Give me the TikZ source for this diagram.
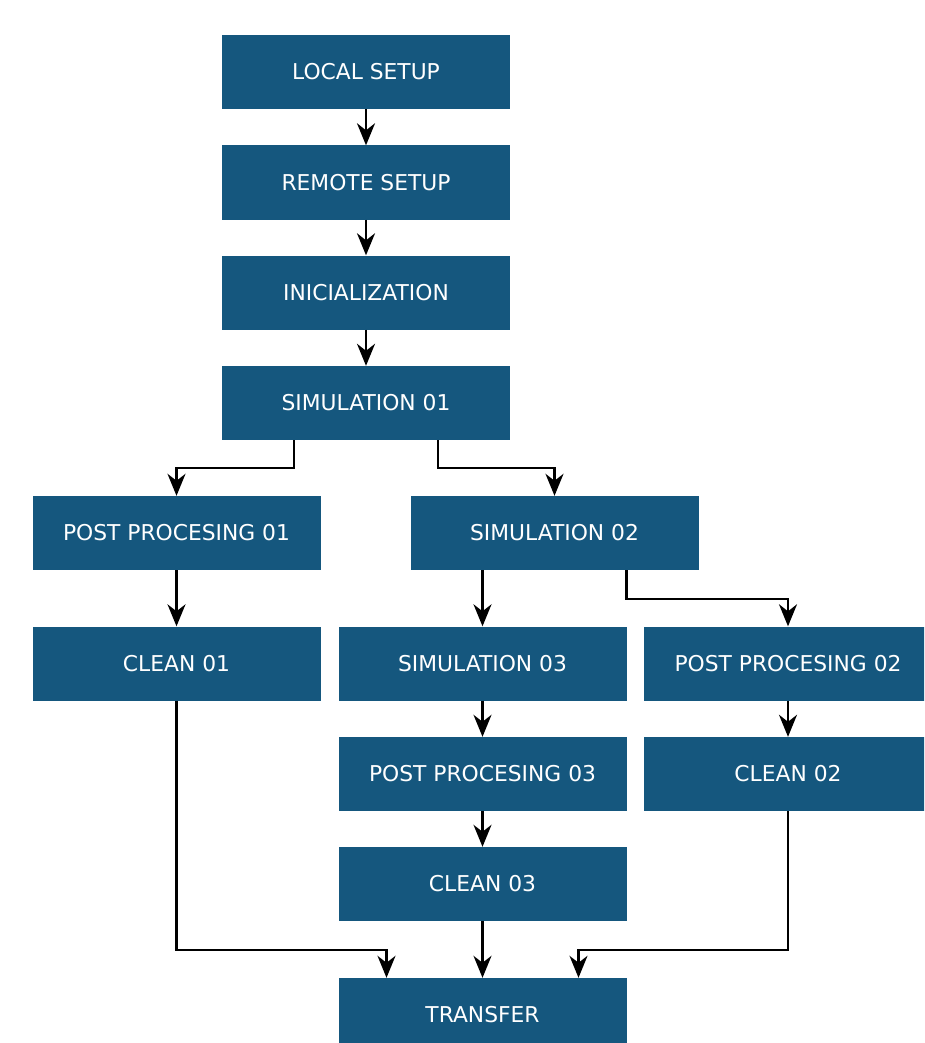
\documentclass[tikz,border=0pt]{standalone}
\usepackage{fontspec}
\setmainfont{DejaVu Sans}
\usetikzlibrary{arrows.meta,positioning}
\definecolor{chathams}{RGB}{21, 87, 126}
\tikzset{stagebox/.style={fill=chathams,text=white,minimum width=288,minimum height=74,inner sep=0pt,font=\fontsize{21.8}{26}\selectfont}}
\tikzset{flow/.style={-{Stealth[length=22pt,width=18pt,inset=7pt]},line width=2.2pt,black}}

\begin{document}
\begin{tikzpicture}[x=1pt,y=-1pt]
	\useasboundingbox (0,0) rectangle (924,1043);
	\clip (0,0) rectangle (924,1043);
	% stages
	\node[stagebox] (localsetup) at (366,72) {LOCAL SETUP};
	\node[stagebox] (remotesetup) at (366,182.5) {REMOTE SETUP};
	\node[stagebox] (init) at (366,292.5) {INICIALIZATION};
	\node[stagebox] (sim01) at (366,403) {SIMULATION 01};
	\node[stagebox] (post01) at (176.5,533) {POST PROCESING 01};
	\node[stagebox] (sim02) at (554.5,533) {SIMULATION 02};
	\node[stagebox] (clean01) at (176.5,663.5) {CLEAN 01};
	\node[stagebox] (sim03) at (482.5,663.5) {SIMULATION 03};
	\node[stagebox] (post02) at (788,663.5) {POST PROCESING 02};
	\node[stagebox] (post03) at (482.5,774) {POST PROCESING 03};
	\node[stagebox] (clean02) at (788,774) {CLEAN 02};
	\node[stagebox] (clean03) at (482.5,884) {CLEAN 03};
	\node[stagebox] (transfer) at (482.5,1015) {TRANSFER};
	\coordinate (merge) at (0,950);
	% connectors
	\draw[flow] (localsetup) -- (remotesetup);
	\draw[flow] (remotesetup) -- (init);
	\draw[flow] (init) -- (sim01);
	\draw[flow] ([xshift=-72pt]sim01.south) -- ++(0,28) -| (post01.north);
	\draw[flow] ([xshift=72pt]sim01.south) -- ++(0,28) -| (sim02.north);
	\draw[flow] (post01) -- (clean01);
	\draw[flow] ([xshift=-72pt]sim02.south) -- (sim03.north);
	\draw[flow] ([xshift=72pt]sim02.south) -- ++(0,29) -| (post02.north);
	\draw[flow] (sim03) -- (post03);
	\draw[flow] (post03) -- (clean03);
	\draw[flow] (post02) -- (clean02);
	\draw[flow] (clean03) -- (transfer);
	\draw[flow] (clean01.south) -- (clean01.south |- merge) -| ([xshift=-96pt]transfer.north);
	\draw[flow] (clean02.south) -- (clean02.south |- merge) -| ([xshift=96pt]transfer.north);
\end{tikzpicture}
\end{document}
